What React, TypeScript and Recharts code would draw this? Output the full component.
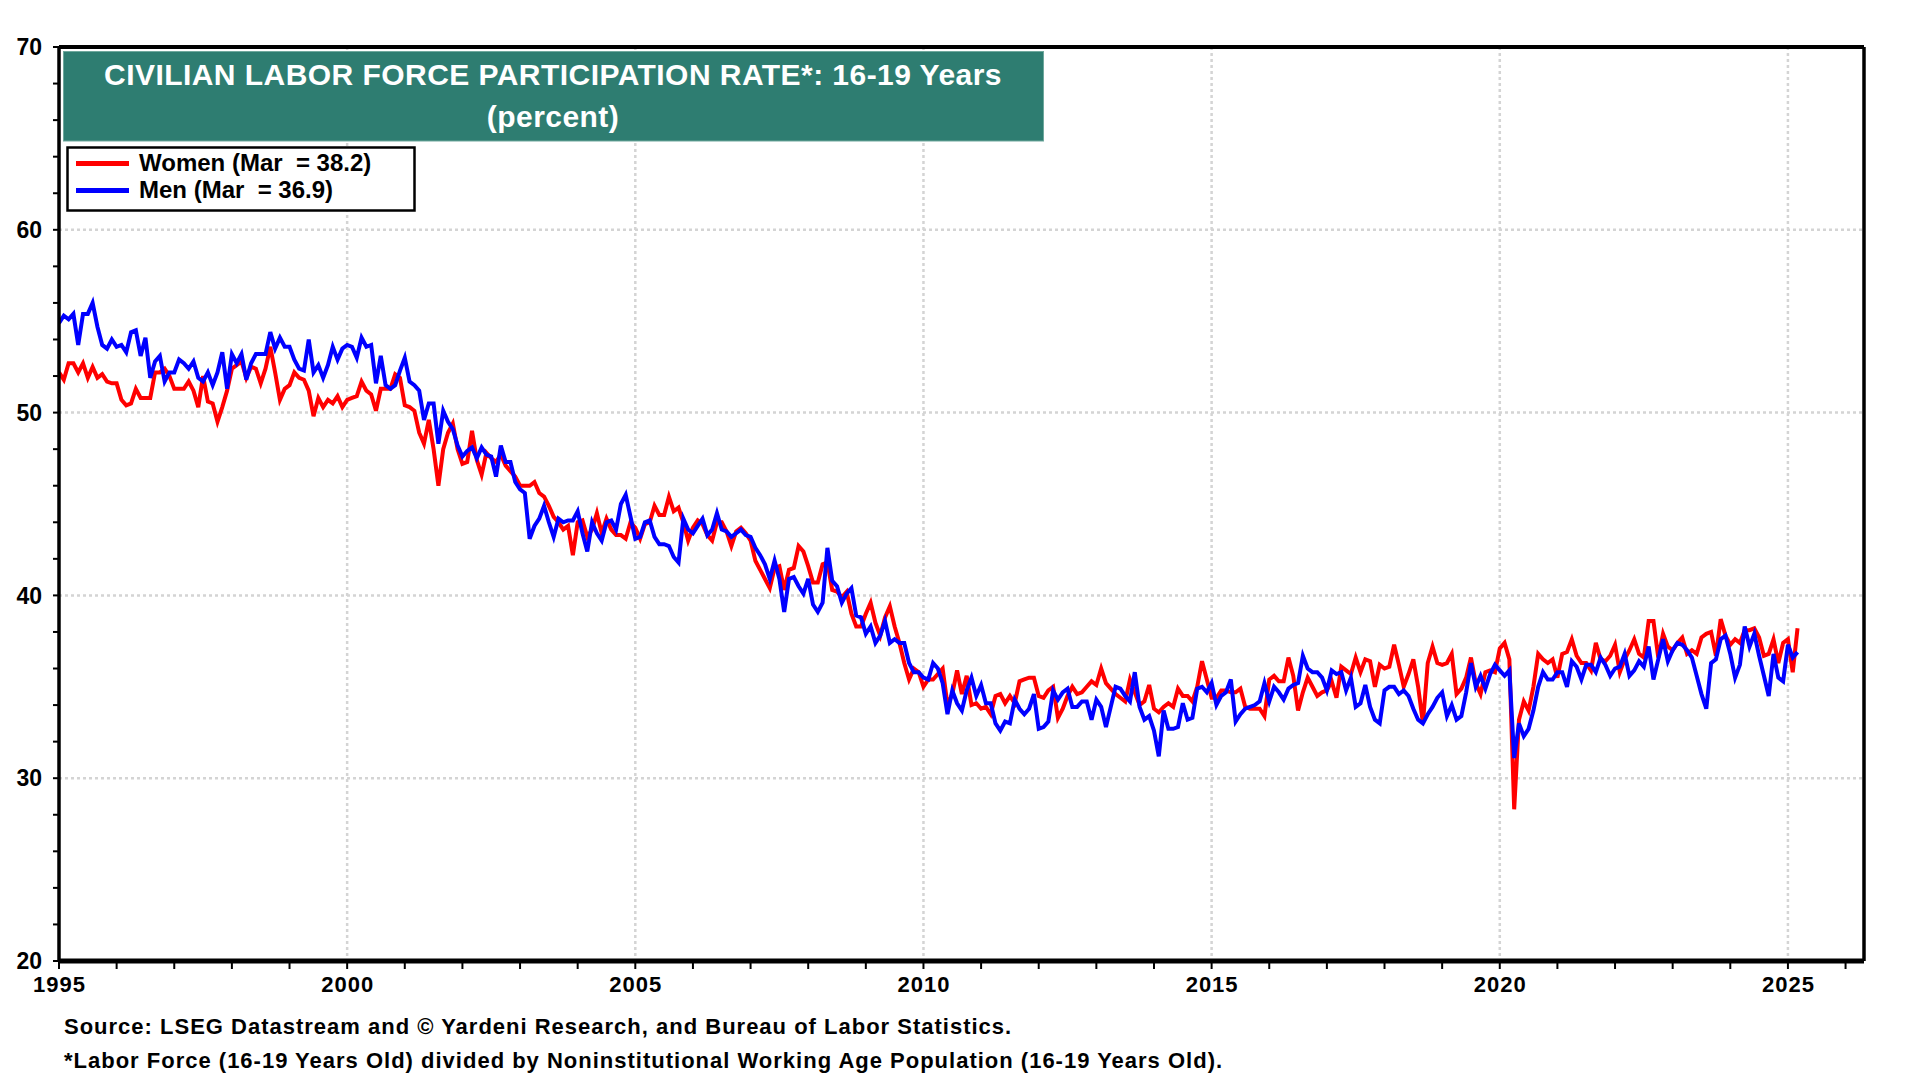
import { LineChart, Line, XAxis, YAxis, CartesianGrid, ReferenceLine } from "recharts";

// Monthly values, Jan 1995 .. Mar 2025
const women1995to2002 = [
  52.2, 51.8, 52.7, 52.7, 52.2, 52.7, 51.9, 52.5, 51.9, 52.1, 51.7, 51.6,
  51.6, 50.7, 50.4, 50.5, 51.3, 50.8, 50.8, 50.8, 52.2, 52.2, 52.4, 52.0,
  51.3, 51.3, 51.3, 51.7, 51.2, 50.3, 52.0, 50.6, 50.5, 49.5, 50.3, 51.2,
  52.4, 52.6, 52.8, 51.9, 52.5, 52.4, 51.6, 52.4, 53.6, 52.2, 50.7, 51.3,
  51.5, 52.2, 51.9, 51.8, 51.2, 49.8, 50.8, 50.3, 50.7, 50.5, 50.9, 50.3,
  50.7, 50.8, 50.9, 51.7, 51.2, 51.0, 50.1, 51.3, 51.3, 51.3, 52.1, 51.9,
  50.4, 50.3, 50.1, 48.9, 48.3, 49.6, 48.0, 46.0, 48.0, 48.9, 49.4, 48.0,
  47.2, 47.3, 49.0, 47.4, 46.6, 47.8, 47.5, 47.3, 47.7, 47.1, 46.8, 46.5,
  46.0,
];
const women2003to2010 = [
  46.0, 46.0, 46.2, 45.6, 45.4, 44.9, 44.3, 44.0, 43.6, 43.8, 42.2,
  44.0, 44.1, 43.2, 43.6, 44.5, 43.4, 44.2, 43.6, 43.3, 43.3, 43.1, 44.0,
  43.7, 43.1, 43.9, 44.0, 44.9, 44.4, 44.4, 45.4, 44.6, 44.8, 44.0, 43.0,
  43.7, 44.1, 43.9, 43.3, 43.0, 44.0, 44.0, 43.5, 42.7, 43.5, 43.7, 43.4,
  43.0, 41.9, 41.4, 40.9, 40.4, 41.5, 41.6, 40.3, 41.4, 41.5, 42.7, 42.4,
  41.6, 40.7, 40.7, 41.7, 41.8, 40.3, 40.2, 39.9, 40.2, 39.0, 38.3, 38.3,
  39.0, 39.6, 38.5, 37.8, 38.8, 39.4, 38.3, 37.4, 36.3, 35.4, 36.0, 35.8,
  35.0, 35.4, 35.4, 35.7, 36.0, 34.0, 34.6, 35.9, 34.6, 35.6, 34.0, 34.1,
  33.8,
];
const women2011to2018 = [
  33.9, 33.5, 34.5, 34.6, 34.1, 34.5, 34.1, 35.3, 35.4, 35.5, 35.5,
  34.5, 34.4, 34.8, 35.0, 33.3, 33.8, 34.5, 35.0, 34.6, 34.7, 35.0, 35.3,
  35.1, 36.0, 35.2, 34.9, 34.6, 34.4, 34.2, 35.4, 34.7, 34.0, 34.2, 35.1,
  33.8, 33.6, 33.9, 34.1, 33.9, 34.9, 34.5, 34.5, 34.2, 35.0, 36.4, 35.4,
  34.4, 34.4, 34.8, 34.8, 34.7, 34.7, 34.9, 33.9, 33.8, 33.8, 33.8, 33.4,
  35.4, 35.6, 35.3, 35.3, 36.6, 35.6, 33.7, 34.7, 35.5, 35.0, 34.5, 34.7,
  34.8, 35.3, 34.4, 36.1, 35.9, 35.7, 36.6, 35.8, 36.5, 36.4, 35.0, 36.2,
  36.0, 36.1, 37.3, 36.2, 35.0, 35.7, 36.5, 35.0, 33.0, 36.3, 37.2, 36.3,
  36.2,
];
const women2019to2025 = [
  36.3, 36.8, 34.6, 34.9, 35.5, 36.6, 35.2, 34.6, 35.8, 35.9, 35.8,
  37.1, 37.4, 36.5, 28.3, 33.2, 34.2, 33.7, 35.0, 36.8, 36.5, 36.3, 36.5,
  35.5, 36.8, 36.9, 37.6, 36.7, 36.3, 36.3, 35.9, 37.4, 36.5, 36.4, 36.7,
  37.3, 35.8, 36.5, 37.0, 37.6, 36.8, 36.6, 38.6, 38.6, 36.6, 37.9, 37.2,
  37.0, 37.4, 37.7, 36.8, 37.0, 36.8, 37.7, 37.9, 38.0, 36.7, 38.7, 37.8,
  37.3, 37.6, 37.4, 38.1, 38.1, 38.2, 37.7, 36.7, 36.8, 37.6, 36.3, 37.4,
  37.6, 35.8, 38.2,
];

const men1995to2002 = [
  54.9, 55.3, 55.1, 55.4, 53.7, 55.4, 55.4, 56.0, 54.7, 53.7, 53.5, 54.0,
  53.6, 53.7, 53.3, 54.4, 54.5, 53.1, 54.1, 51.9, 52.8, 53.1, 51.7, 52.2,
  52.2, 52.9, 52.7, 52.4, 52.8, 51.9, 51.7, 52.2, 51.5, 52.2, 53.3, 51.3,
  53.2, 52.7, 53.2, 51.8, 52.7, 53.2, 53.2, 53.2, 54.4, 53.5, 54.1, 53.6,
  53.6, 52.9, 52.4, 52.3, 54.0, 52.2, 52.6, 51.9, 52.6, 53.6, 52.9, 53.5,
  53.7, 53.6, 53.0, 54.1, 53.6, 53.7, 51.6, 53.1, 51.5, 51.3, 51.5, 52.3,
  53.0, 51.7, 51.5, 51.2, 49.6, 50.5, 50.5, 48.3, 50.1, 49.5, 49.1, 48.2,
  47.6, 47.9, 48.1, 47.5, 48.1, 47.7, 47.6, 46.5, 48.2, 47.3, 47.3, 46.2,
  45.8,
];
const men2003to2010 = [
  45.6, 43.1, 43.8, 44.2, 44.9, 44.0, 43.2, 44.2, 44.0, 44.1, 44.1,
  44.6, 43.4, 42.4, 44.0, 43.4, 43.0, 44.0, 44.1, 43.6, 45.0, 45.5, 44.3,
  43.1, 43.2, 44.0, 44.1, 43.2, 42.8, 42.8, 42.7, 42.1, 41.8, 44.2, 43.6,
  43.4, 43.8, 44.2, 43.3, 43.6, 44.5, 43.6, 43.5, 43.2, 43.4, 43.6, 43.3,
  43.2, 42.6, 42.2, 41.7, 40.9, 41.9, 40.9, 39.1, 40.9, 41.0, 40.5, 40.1,
  40.9, 39.5, 39.1, 39.6, 42.6, 40.8, 40.5, 39.6, 40.1, 40.4, 38.9, 38.8,
  37.9, 38.3, 37.4, 37.8, 38.6, 37.4, 37.6, 37.4, 37.4, 36.3, 35.8, 35.8,
  35.5, 35.4, 36.3, 36.0, 35.2, 33.5, 34.8, 34.1, 33.7, 34.8, 35.5, 34.5,
  35.1,
];
const men2011to2018 = [
  34.1, 34.1, 33.0, 32.6, 33.1, 33.0, 34.3, 33.8, 33.5, 33.8, 34.6,
  32.7, 32.8, 33.1, 34.8, 34.3, 34.7, 34.9, 33.9, 33.9, 34.2, 34.2, 33.2,
  34.3, 33.9, 32.8, 33.9, 35.0, 34.9, 34.5, 34.2, 35.8, 33.9, 33.2, 33.4,
  32.6, 31.2, 33.7, 32.7, 32.7, 32.8, 34.1, 33.2, 33.3, 34.9, 35.0, 34.7,
  35.2, 34.0, 34.5, 34.7, 35.4, 33.1, 33.5, 33.8, 33.9, 34.0, 34.2, 35.2,
  34.2, 35.0, 34.7, 34.3, 34.9, 35.1, 35.2, 36.7, 36.0, 35.8, 35.8, 35.5,
  34.8, 35.9, 35.7, 35.8, 34.8, 35.5, 33.9, 34.1, 35.1, 33.9, 33.2, 33.0,
  34.8, 35.0, 35.0, 34.6, 34.8, 34.5, 33.8, 33.2, 33.0, 33.5, 33.9, 34.4,
  34.7,
];
const men2019to2025 = [
  33.4, 34.0, 33.2, 33.4, 34.7, 36.3, 35.0, 35.6, 34.9, 35.7, 36.2,
  35.9, 35.6, 35.9, 31.1, 33.0, 32.3, 32.7, 33.7, 35.0, 35.8, 35.4, 35.4,
  35.8, 35.8, 35.0, 36.4, 36.1, 35.4, 36.2, 36.2, 35.8, 36.6, 36.2, 35.6,
  36.0, 36.1, 36.8, 35.6, 35.9, 36.4, 36.1, 37.2, 35.4, 36.5, 37.6, 36.4,
  37.0, 37.4, 37.3, 37.0, 36.6, 35.6, 34.6, 33.8, 36.3, 36.5, 37.6, 37.8,
  36.8, 35.5, 36.2, 38.3, 37.2, 37.9, 36.7, 35.6, 34.5, 36.8, 35.5, 35.3,
  37.3, 36.6, 36.9,
];

const women = [...women1995to2002, ...women2003to2010, ...women2011to2018, ...women2019to2025];
const men = [...men1995to2002, ...men2003to2010, ...men2011to2018, ...men2019to2025];

const startYear = 1995;
const yearTicks = Array.from({ length: 32 }, (_, i) => 1995 + i);
const gridYears = [2000, 2005, 2010, 2015, 2020, 2025];
const valueTicks = Array.from({ length: 26 }, (_, i) => 20 + i * 2);
const gridValues = [30, 40, 50, 60];

const chartData = women.map((w, i) => ({
  t: startYear + i / 12,
  women: w,
  men: men[i],
}));

const FONT = "'Liberation Sans', Arial, sans-serif";

function XTick(props: any) {
  const { x, y, payload } = props;
  if (payload.value % 5 !== 0) return <g />;
  return (
    <text x={x + 0.5} y={y + 21} textAnchor="middle" fontFamily={FONT} fontWeight="bold" fontSize={22} letterSpacing={1} fill="#000">
      {payload.value}
    </text>
  );
}

function YTickLeft(props: any) {
  const { x, y, payload } = props;
  if (payload.value % 10 !== 0) return <g />;
  return (
    <text x={x - 9} y={y} dy="0.36em" textAnchor="end" fontFamily={FONT} fontWeight="bold" fontSize={23} fill="#000">
      {payload.value}
    </text>
  );
}

function YTickRight(props: any) {
  const { x, y, payload } = props;
  if (payload.value % 10 !== 0) return <g />;
  return (
    <text x={x + 8} y={y} dy="0.36em" textAnchor="start" fontFamily={FONT} fontWeight="bold" fontSize={23} fill="#000">
      {payload.value}
    </text>
  );
}

export default function App() {
  return (
    <div style={{ position: "absolute", left: 0, top: 0, width: 1920, height: 1080, background: "#fff" }}>
      <LineChart width={1920} height={1080} data={chartData} margin={{ top: 47, right: 0, bottom: 79, left: 0 }}>
        <CartesianGrid
          yAxisId="left"
          horizontal
          vertical
          horizontalValues={gridValues}
          verticalValues={gridYears}
          stroke="#d4d4d4"
          strokeWidth={2.5}
          strokeDasharray="3 3"
        />
        <XAxis
          dataKey="t"
          type="number"
          domain={[1995, 2026.32]}
          allowDataOverflow
          ticks={yearTicks}
          interval={0}
          height={40}
          tickSize={8}
          axisLine={{ stroke: "#000", strokeWidth: 5 }}
          tickLine={{ stroke: "#000", strokeWidth: 2 }}
          tick={<XTick />}
        />
        <YAxis
          yAxisId="left"
          domain={[20, 70]}
          ticks={valueTicks}
          interval={0}
          width={59}
          tickSize={6}
          axisLine={{ stroke: "#000", strokeWidth: 3.5 }}
          tickLine={{ stroke: "#000", strokeWidth: 2 }}
          tick={<YTickLeft />}
        />
        <YAxis
          yAxisId="right"
          orientation="right"
          domain={[20, 70]}
          ticks={valueTicks}
          interval={0}
          width={56}
          tickSize={6}
          axisLine={{ stroke: "#000", strokeWidth: 3.5 }}
          tickLine={{ stroke: "#000", strokeWidth: 2 }}
          tick={<YTickRight />}
        />
        <ReferenceLine yAxisId="left" y={70} stroke="#000" strokeWidth={4} />
        <Line
          yAxisId="left"
          type="linear"
          dataKey="women"
          stroke="#ff0000"
          strokeWidth={4}
          dot={false}
          isAnimationActive={false}
        />
        <Line
          yAxisId="left"
          type="linear"
          dataKey="men"
          stroke="#0000ff"
          strokeWidth={4}
          dot={false}
          isAnimationActive={false}
        />
      </LineChart>
      <svg width={1920} height={1080} style={{ position: "absolute", left: 0, top: 0, pointerEvents: "none" }}>
        <rect x={63.5} y={51.5} width={980} height={89.5} fill="#2e7d71" stroke="#6fa89d" strokeWidth={1} />
        <text x={553} y={85} textAnchor="middle" fontFamily={FONT} fontWeight="bold" fontSize={30} letterSpacing={0.45} fill="#fff">
          CIVILIAN LABOR FORCE PARTICIPATION RATE*: 16-19 Years
        </text>
        <text x={553} y={127} textAnchor="middle" fontFamily={FONT} fontWeight="bold" fontSize={30} letterSpacing={0.45} fill="#fff">
          (percent)
        </text>
        <rect x={67.5} y={147.5} width={347} height={63} fill="#fff" stroke="#000" strokeWidth={2.5} />
        <line x1={76} x2={129} y1={163.5} y2={163.5} stroke="#ff0000" strokeWidth={5} />
        <line x1={76} x2={129} y1={190.5} y2={190.5} stroke="#0000ff" strokeWidth={5} />
        <text x={139} y={171} fontFamily={FONT} fontWeight="bold" fontSize={24} fill="#000" style={{ whiteSpace: "pre" }}>
          {"Women (Mar  = 38.2)"}
        </text>
        <text x={139} y={198} fontFamily={FONT} fontWeight="bold" fontSize={24} fill="#000" style={{ whiteSpace: "pre" }}>
          {"Men (Mar  = 36.9)"}
        </text>
        <text x={64} y={1034} fontFamily={FONT} fontWeight="bold" fontSize={22} letterSpacing={1} fill="#000">
          Source: LSEG Datastream and © Yardeni Research, and Bureau of Labor Statistics.
        </text>
        <text x={64} y={1068} fontFamily={FONT} fontWeight="bold" fontSize={22} letterSpacing={1} fill="#000">
          *Labor Force (16-19 Years Old) divided by Noninstitutional Working Age Population (16-19 Years Old).
        </text>
      </svg>
    </div>
  );
}
